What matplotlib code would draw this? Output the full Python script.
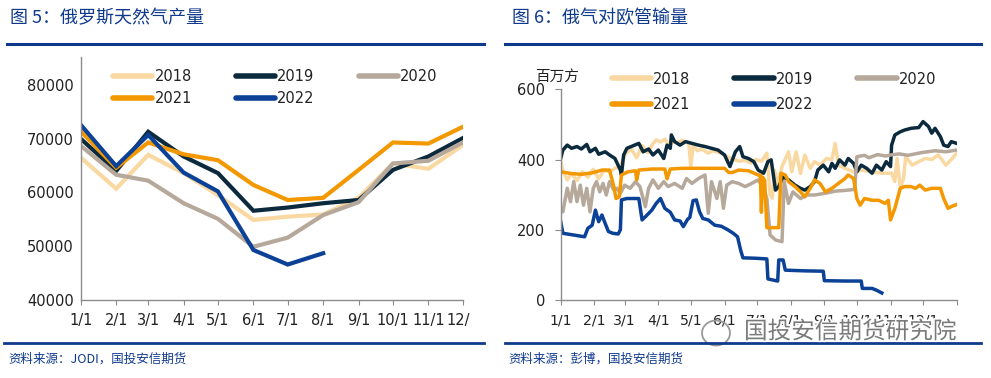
import matplotlib
matplotlib.use("Agg")
import matplotlib.pyplot as plt
import matplotlib.patheffects as pe
from matplotlib.lines import Line2D
from matplotlib.patches import Ellipse, Rectangle

W, H = 991, 378
CJK = ["Noto Sans CJK SC", "DejaVu Sans"]
plt.rcParams["font.family"] = ["DejaVu Sans", "Noto Sans CJK SC"]

years = ["2018", "2019", "2020", "2021", "2022"]
colors = ["#f9d9a1", "#0c2a3d", "#b6a89b", "#f39800", "#0b4196"]
BLUE = "#0f3a8c"
AXIS = "#8c8c8c"
TEXT = "#222222"

# ---- fig 5: monthly production (day offsets of month starts) ----
month_days = [0, 31, 59, 90, 120, 151, 181, 212, 243, 273, 304, 334]
month_labels = ["1/1", "2/1", "3/1", "4/1", "5/1", "6/1", "7/1", "8/1", "9/1", "10/1", "11/1", "12/1"]
prod_2018 = [66500, 60700, 67000, 63600, 59500, 54900, 55500, 55900, 59000, 65400, 64400, 68800]
prod_2019 = [70000, 64000, 71300, 66700, 63600, 56600, 57200, 58000, 58600, 64200, 66700, 70100]
prod_2020 = [68700, 63300, 62200, 58000, 55100, 49900, 51600, 55800, 58200, 65400, 65900, 69300]
prod_2021 = [71400, 64600, 69300, 67100, 66000, 61400, 58600, 59000, 64200, 69300, 69100, 72200]
prod_2022 = [72600, 64900, 70700, 63700, 60200, 49300, 46600, 48700]

# ---- fig 6: pipeline flow to Europe (day of year, mcm) ----
d2018 = [0, 2, 6, 10, 15, 20, 25, 30, 35, 40, 45, 50, 55, 60, 65, 70, 75, 80, 85, 88,
         92, 96, 100, 104, 108, 112, 118, 120, 122, 126, 130, 136, 140, 146, 150, 155, 160, 165, 170, 175,
         180, 185, 190, 193, 195, 197, 200, 204, 210, 213, 217, 221, 225, 230, 234, 239, 245, 250, 253, 256,
         262, 270, 277, 287, 296, 305, 308, 310, 313, 316, 318, 324, 330, 336, 342, 348, 355, 360, 365]
v2018 = [394, 370, 342, 360, 340, 365, 350, 372, 345, 370, 365, 375, 380, 418, 430, 405, 440, 420, 445, 456,
         450, 458, 440, 452, 448, 455, 445, 380, 440, 425, 430, 418, 425, 420, 415, 405, 400, 395, 398, 390,
         400, 395, 418, 300, 290, 370, 330, 380, 422, 365, 422, 360, 413, 375, 394, 384, 403, 400, 446, 384,
         375, 365, 370, 365, 361, 361, 337, 403, 320, 346, 408, 384, 394, 403, 400, 413, 384, 400, 418]
d2019 = [0, 2, 6, 10, 15, 19, 24, 27, 32, 35, 41, 45, 50, 55, 56, 58, 61, 65, 72, 76,
         81, 85, 90, 95, 98, 101, 102, 105, 110, 115, 121, 127, 133, 139, 145, 151, 156, 161, 165, 168,
         173, 178, 182, 187, 191, 194, 198, 201, 205, 210, 216, 221, 225, 230, 234, 237, 242, 247, 250, 253,
         257, 262, 265, 270, 273, 277, 282, 287, 291, 296, 300, 304, 305, 308, 313, 317, 323, 330, 334, 339,
         342, 345, 350, 353, 357, 360, 365]
v2019 = [403, 427, 441, 432, 437, 430, 443, 422, 432, 415, 422, 413, 403, 370, 356, 413, 432, 437, 446, 422,
         430, 413, 427, 403, 441, 432, 470, 451, 441, 451, 446, 441, 437, 432, 427, 413, 380, 422, 437, 408,
         403, 394, 370, 361, 394, 399, 313, 323, 351, 342, 327, 318, 313, 323, 337, 370, 384, 365, 389, 375,
         399, 384, 403, 389, 365, 384, 375, 361, 384, 370, 394, 380, 441, 470, 479, 484, 489, 491, 508, 494,
         475, 489, 465, 441, 437, 451, 446]
d2020 = [0, 2, 6, 9, 12, 15, 18, 21, 24, 27, 30, 33, 36, 39, 42, 45, 49, 52, 55, 59,
         64, 69, 73, 78, 81, 85, 90, 95, 99, 105, 112, 116, 121, 127, 133, 136, 139, 144, 147, 150,
         153, 158, 164, 170, 176, 182, 187, 190, 193, 198, 204, 206, 210, 214, 221, 227, 234, 244, 253, 262,
         271, 273, 280, 284, 292, 300, 304, 312, 320, 333, 345, 355, 365]
v2020 = [261, 251, 318, 280, 337, 280, 327, 270, 318, 251, 318, 337, 308, 332, 299, 337, 313, 318, 304, 327,
         318, 337, 323, 266, 318, 342, 318, 337, 323, 332, 318, 346, 332, 346, 356, 247, 337, 289, 337, 261,
         327, 337, 332, 323, 332, 342, 318, 289, 185, 171, 166, 337, 275, 308, 289, 299, 299, 304, 310, 312,
         315, 408, 412, 405, 414, 410, 413, 416, 412, 420, 425, 422, 427]
d2021 = [0, 10, 19, 29, 38, 45, 49, 51, 54, 56, 62, 69, 70, 72, 84, 96, 98, 101, 112, 130,
         151, 155, 158, 164, 173, 182, 184, 185, 186, 188, 190, 201, 203, 207, 210, 216, 221, 225, 230, 234,
         239, 244, 250, 256, 262, 265, 270, 273, 276, 280, 287, 293, 299, 302, 304, 308, 313, 317, 323, 327,
         331, 336, 342, 350, 353, 357, 360, 365]
v2021 = [365, 360, 358, 362, 370, 370, 323, 289, 294, 356, 365, 368, 342, 370, 373, 373, 345, 373, 375, 375,
         375, 363, 363, 370, 368, 356, 356, 250, 350, 340, 206, 206, 361, 356, 337, 323, 308, 294, 318, 342,
         332, 308, 318, 332, 346, 356, 346, 289, 270, 289, 284, 284, 275, 284, 228, 261, 318, 323, 323, 318,
         327, 313, 318, 318, 289, 261, 266, 272]
d2022 = [0, 2, 10, 16, 22, 25, 29, 32, 35, 38, 41, 44, 48, 53, 55, 56, 61, 72, 75, 79,
         84, 88, 92, 96, 101, 105, 110, 113, 117, 119, 122, 125, 128, 131, 136, 142, 148, 154, 159, 163,
         166, 168, 179, 190, 191, 200, 201, 205, 207, 225, 242, 243, 262, 277, 278, 287, 291, 296]
v2022 = [223, 190, 186, 183, 180, 204, 213, 256, 223, 242, 218, 195, 190, 188, 200, 285, 289, 289, 228, 240,
         256, 275, 289, 261, 250, 228, 225, 209, 230, 235, 283, 285, 251, 232, 228, 213, 210, 200, 190, 180,
         140, 120, 119, 117, 60, 54, 114, 114, 85, 83, 82, 55, 54, 54, 33, 33, 28, 20]

flow_ticks = month_days + [365]
flow_labels = month_labels + [""]

fig = plt.figure(figsize=(W / 100, H / 100), dpi=100)


def px_axes(left, top, right, bottom):
    return fig.add_axes([left / W, 1 - bottom / H, (right - left) / W, (bottom - top) / H])


def fig_line(x0, x1, y, lw):
    fig.add_artist(Line2D([x0 / W, x1 / W], [1 - y / H, 1 - y / H], color=BLUE, lw=lw,
                          transform=fig.transFigure))


def style(ax, ytick_len, xsize):
    for s in ("top", "right"):
        ax.spines[s].set_visible(False)
    for s in ("left", "bottom"):
        ax.spines[s].set_color(AXIS)
        ax.spines[s].set_linewidth(1.0)
    ax.tick_params(axis="x", direction="out", length=3.5, color=AXIS, labelsize=xsize,
                   labelcolor=TEXT, pad=6)
    ax.tick_params(axis="y", direction="out", length=ytick_len, color=AXIS, labelsize=10.5,
                   labelcolor=TEXT, pad=5 if ytick_len == 0 else 7)


def add_legend(x, y, rowsp):
    handles = [Line2D([], [], color=c, lw=4.0, solid_capstyle="round") for c in colors]
    order = [0, 3, 1, 4, 2]
    fig.legend([handles[i] for i in order], [years[i] for i in order],
               loc="upper left", bbox_to_anchor=(x / W, 1 - y / H), ncol=3, frameon=False,
               borderpad=0, borderaxespad=0, handlelength=2.7, handletextpad=0.15,
               columnspacing=3.0, labelspacing=rowsp, fontsize=10.5, labelcolor=TEXT)


# ---------------- left: production ----------------
ax1 = px_axes(80.7, 57, 462.7, 300)
prod = [prod_2018, prod_2019, prod_2020, prod_2021, prod_2022]
for vals, c in zip(prod, colors):
    ax1.plot(month_days[:len(vals)], vals, color=c, lw=3.0, solid_joinstyle="miter")
ax1.set_xlim(0, 334)
ax1.set_ylim(40000, 85200)
ax1.set_yticks([40000, 50000, 60000, 70000, 80000])
ax1.set_xticks(month_days)
ax1.set_xticklabels(month_labels)
style(ax1, 0, 10.5)
# the source panel is cropped just right of the last label
panel = Rectangle((0, 0), 471 / W, 1, transform=fig.transFigure, visible=False)
fig.add_artist(panel)
for lab in ax1.get_xticklabels():
    lab.set_clip_path(panel)
add_legend(113, 69, 0.49)

# ---------------- right: pipeline flow ----------------
ax2 = px_axes(560.7, 89.3, 956.7, 300)
flows = [(d2018, v2018), (d2019, v2019), (d2020, v2020), (d2021, v2021), (d2022, v2022)]
for (d, v), c in zip(flows, colors):
    ax2.plot(d, v, color=c, lw=2.5, solid_joinstyle="round")
ax2.set_xlim(0, 365)
ax2.set_ylim(0, 600)
ax2.set_yticks([0, 200, 400, 600])
ax2.set_xticks(flow_ticks)
ax2.set_xticklabels(flow_labels)
style(ax2, 4, 10.2)
fig.text(535 / W, 1 - 77 / H, "百万方", family=CJK, fontsize=10.5, color=TEXT, va="center")
add_legend(611.7, 71.5, 0.74)

# ---------------- titles, rules, sources ----------------
fig.text(10 / W, 1 - 18 / H, "图 5：俄罗斯天然气产量", family=CJK, fontsize=13, color=BLUE, va="center")
fig.text(512 / W, 1 - 18 / H, "图 6：俄气对欧管输量", family=CJK, fontsize=13, color=BLUE, va="center")
fig_line(7, 484, 44, 2.2)
fig_line(505, 981, 44, 2.2)
fig_line(4, 484, 342.7, 2.0)
fig_line(505, 981, 342.7, 2.0)
fig.text(8 / W, 1 - 359 / H, "资料来源：JODI，国投安信期货", family=CJK, fontsize=9, color=BLUE, va="center")
fig.text(508 / W, 1 - 359 / H, "资料来源：彭博，国投安信期货", family=CJK, fontsize=9, color=BLUE, va="center")

# watermark
fig.add_artist(Ellipse((716 / W, 1 - 333 / H), 28 / W, 25 / H, transform=fig.transFigure,
                       fill=False, ec="#9a9a9a", lw=1.3))
fig.text(744 / W, 1 - 332 / H, "国投安信期货研究院", family=CJK, fontsize=17, color="#7a7a7a",
         va="center", path_effects=[pe.withStroke(linewidth=2.5, foreground="white")])

fig.savefig("out.png", dpi=100)
